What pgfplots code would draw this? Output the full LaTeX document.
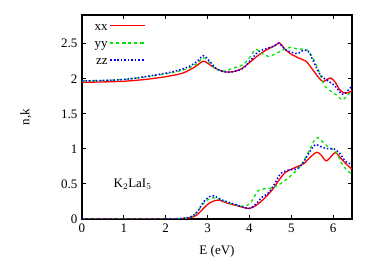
\documentclass[border=0pt]{standalone}
\usepackage{fontspec}
\setmainfont{Liberation Serif}
\usepackage{pgfplots}
\pgfplotsset{compat=1.18}
\begin{document}
\fontsize{13}{15}\selectfont
\begin{tikzpicture}[font=\fontsize{13}{15}\selectfont]
\begin{axis}[
  scale only axis, width=270pt, height=204pt,
  xmin=0, xmax=6.45, ymin=0, ymax=2.91,
  xtick={0,1,2,3,4,5,6}, ytick={0,0.5,1,1.5,2,2.5},
  yticklabels={0,0.5,1,1.5,2,2.5},
  xticklabels={0,1,2,3,4,5,6},
  tick label style={font=\fontsize{13}{15}\selectfont},
  label style={font=\fontsize{13}{15}\selectfont},
  tick align=inside, tick pos=both, major tick length=4pt,
  tick style={black, line width=1pt},
  axis line style={line width=2pt},
  xlabel={E (eV)}, ylabel={n,k},
  xlabel style={yshift=-4pt},
  ylabel style={yshift=21pt},
  legend plot pos=right, legend cell align=right,
  legend image post style={xscale=2.0},
  legend style={draw=none, fill=none, at={(0.035,0.995)}, anchor=north west, font=\fontsize{13}{16}\selectfont, inner sep=1pt},
]
\addplot[red, line width=1.3pt, smooth, tension=0.5] coordinates {
(0,1.95)(0.5,1.955)(1,1.965)(1.5,1.99)(2,2.03)(2.4,2.08)(2.7,2.17)(2.9,2.25)(3.1,2.18)(3.25,2.13)(3.4,2.10)(3.6,2.10)(3.8,2.14)(4.0,2.23)(4.2,2.33)(4.4,2.41)(4.6,2.47)(4.72,2.51)(4.85,2.42)(5.0,2.35)(5.2,2.29)(5.35,2.25)(5.5,2.14)(5.65,2.02)(5.76,1.96)(5.85,1.99)(5.95,2.01)(6.05,1.95)(6.15,1.85)(6.25,1.80)(6.35,1.80)(6.45,1.83)};
\addlegendentry{\strut xx}
\addplot[color={rgb,255:red,0;green,230;blue,0}, line width=1.3pt, dashed, smooth, tension=0.5] coordinates {
(0,1.97)(1,1.99)(2,2.07)(2.5,2.14)(2.75,2.22)(2.9,2.30)(3.05,2.23)(3.2,2.14)(3.4,2.11)(3.6,2.15)(3.85,2.20)(4.0,2.30)(4.15,2.42)(4.3,2.36)(4.45,2.32)(4.6,2.35)(4.8,2.41)(5.0,2.45)(5.15,2.42)(5.35,2.42)(5.5,2.32)(5.65,2.12)(5.8,1.90)(6.0,1.80)(6.1,1.76)(6.22,1.70)(6.35,1.77)(6.45,1.83)};
\addlegendentry{\strut yy}
\addplot[blue, line width=1.5pt, dotted, smooth, tension=0.5] coordinates {
(0,1.97)(1,1.99)(2,2.08)(2.5,2.16)(2.75,2.25)(2.9,2.33)(3.05,2.25)(3.2,2.15)(3.4,2.10)(3.6,2.10)(3.85,2.15)(4.05,2.28)(4.2,2.38)(4.4,2.43)(4.6,2.47)(4.7,2.51)(4.85,2.42)(5.0,2.38)(5.15,2.36)(5.3,2.41)(5.42,2.38)(5.55,2.22)(5.7,2.05)(5.85,1.98)(6.0,1.92)(6.1,1.86)(6.2,1.78)(6.3,1.80)(6.45,1.90)};
\addlegendentry{\strut zz}
\addplot[red, line width=1.3pt, smooth, tension=0.5, forget plot] coordinates {
(0,0)(2.0,0)(2.4,0.005)(2.6,0.02)(2.75,0.06)(2.9,0.15)(3.05,0.23)(3.25,0.27)(3.45,0.23)(3.7,0.19)(3.98,0.15)(4.15,0.19)(4.35,0.29)(4.55,0.42)(4.7,0.55)(4.85,0.66)(5.0,0.71)(5.15,0.75)(5.3,0.79)(5.45,0.88)(5.6,0.95)(5.7,0.92)(5.83,0.83)(5.95,0.89)(6.05,0.95)(6.15,0.89)(6.3,0.79)(6.45,0.71)};
\addplot[color={rgb,255:red,0;green,230;blue,0}, line width=1.3pt, dashed, smooth, tension=0.5, forget plot] coordinates {
(0,0)(2.0,0)(2.4,0.01)(2.6,0.03)(2.75,0.1)(2.9,0.22)(3.05,0.29)(3.2,0.30)(3.45,0.24)(3.7,0.20)(3.9,0.18)(4.05,0.25)(4.2,0.40)(4.35,0.43)(4.5,0.44)(4.65,0.47)(4.85,0.55)(5.05,0.65)(5.25,0.78)(5.4,0.95)(5.55,1.12)(5.64,1.16)(5.75,1.10)(5.9,1.02)(6.05,0.97)(6.2,0.80)(6.35,0.68)(6.45,0.65)};
\addplot[blue, line width=1.5pt, dotted, smooth, tension=0.5, forget plot] coordinates {
(0,0)(2.0,0)(2.4,0.01)(2.6,0.03)(2.75,0.1)(2.9,0.24)(3.05,0.32)(3.15,0.33)(3.35,0.27)(3.6,0.22)(3.8,0.18)(4.0,0.15)(4.15,0.21)(4.3,0.31)(4.45,0.37)(4.6,0.50)(4.75,0.65)(4.95,0.70)(5.15,0.72)(5.3,0.82)(5.45,0.97)(5.58,1.06)(5.75,1.02)(5.9,1.00)(6.02,1.00)(6.15,0.94)(6.3,0.82)(6.45,0.78)};
\node[anchor=west] at (axis cs:0.65,0.5) {K$_2$LaI$_5$};
\end{axis}
\useasboundingbox (current axis.south west) ++(-82pt,-43pt) rectangle ([shift={(22pt,15pt)}]current axis.north east);
\end{tikzpicture}
\end{document}
